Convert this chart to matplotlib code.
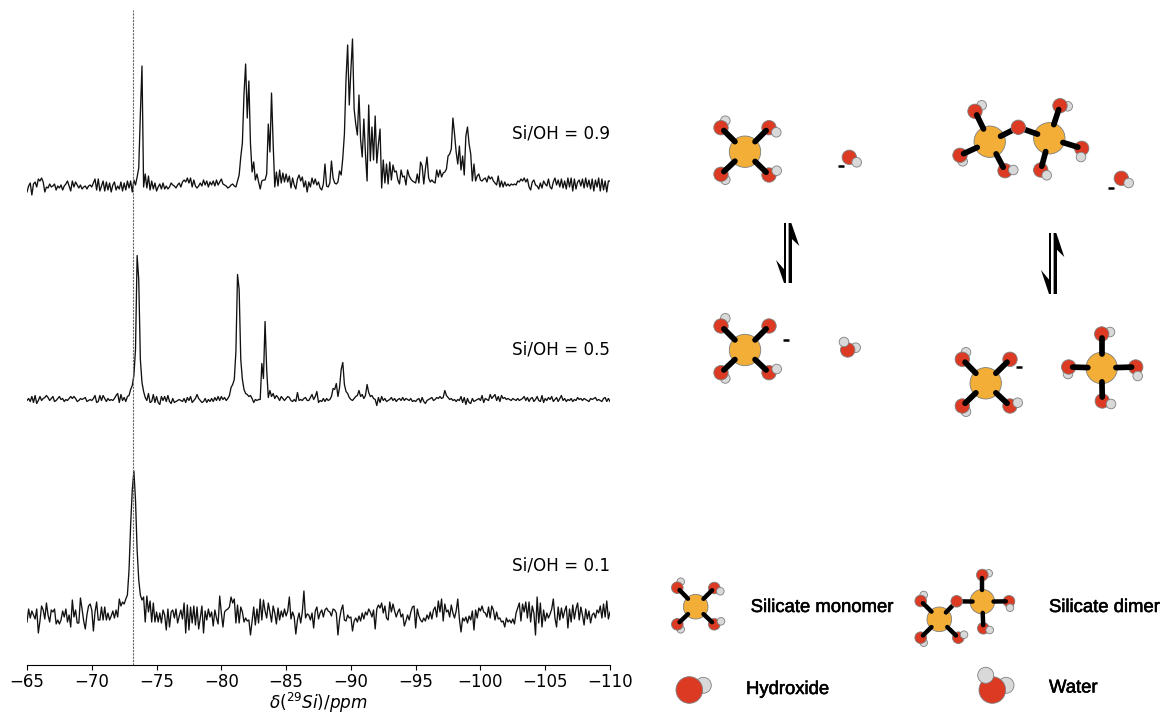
import numpy as np
import matplotlib
matplotlib.use("Agg")
import matplotlib.pyplot as plt
from matplotlib.patches import Circle, Polygon
import matplotlib.patheffects as pe

## spectra, height above each baseline, one value every 0.125 ppm starting at -65
si09 = [-8, -2, 1, -11, 0, 2, -3, 5, 3, 6,
        2, -8, -3, -4, 0, -3, -2, 0, -6, -2,
        -4, -1, -6, -2, 0, 3, -2, -7, 3, -3,
        2, -1, -4, -1, -5, -3, -2, -5, -2, -1,
        -3, 1, 5, -6, 5, -7, -2, 3, -7, 2,
        -6, 1, -8, -1, 2, -6, -2, -5, 2, -7,
        1, -6, 3, -4, 3, -8, 4, -1, 7, 16,
        70, 118, -3, 10, -4, 8, -6, 3, -5, 1,
        -7, -3, 0, -5, 1, -5, -2, -5, -3, 1,
        -1, -2, -4, -1, 1, -3, 2, 4, 2, 6,
        1, 6, -3, 4, -2, -4, -2, 1, -2, 4,
        -1, 3, -3, 2, -1, 3, -2, 4, -1, 2,
        5, 0, -1, -2, -4, -3, -1, 0, -2, -3,
        3, 9, 27, 41, 90, 120, 66, 103, 40, 12,
        22, 4, 10, 2, -5, 3, 4, 4, 10, 60,
        32, 91, 40, -3, 12, -2, 14, 1, 11, 2,
        10, 2, 8, -4, 6, -1, -5, 5, 9, 3,
        7, -3, 3, -8, 2, -3, 6, 0, 5, -1,
        2, -4, -6, 0, 20, -2, -3, 1, 23, 6,
        1, 0, 2, 13, 9, 26, 50, 105, 139, 79,
        114, 145, 75, 60, 49, 89, 44, 27, 65, 30,
        3, 79, 23, 57, 24, 68, 21, 40, 55, -4,
        24, 1, 20, 0, 22, 4, 19, 12, 13, 4,
        0, 14, 7, 8, -1, 14, 8, 5, 3, 2,
        1, 10, 1, 22, 18, 0, 15, 27, 6, 2,
        4, 2, 1, 14, 7, 14, 7, 11, 12, 15,
        28, 30, 35, 66, 50, 32, 20, 38, 14, 28,
        9, 48, 57, 40, 30, 3, 20, 3, 8, 10,
        4, 3, 5, 6, 2, 8, 5, 7, 3, 1,
        -1, 8, -3, 3, -3, 2, -2, 0, -2, 0,
        -1, 0, -1, 3, 2, 5, 3, 6, 2, 5,
        -3, -6, 2, 4, -1, -2, -5, 1, -4, 3,
        0, -2, 5, -3, -5, 2, 6, -1, 4, -3,
        5, -4, 3, -5, 6, -3, 6, -7, 5, -5,
        2, 4, -2, 5, -4, 6, -3, 4, -5, 5,
        -7, 4, -3, 6, -7, 5, -6, 3, -8, 3,
        3]

si05 = [-1, 1, -2, 3, -3, 4, -4, -1, 3, -1,
        1, 2, 4, 2, -1, 1, 3, -2, -1, 1,
        3, 0, 1, -2, 0, -1, 1, 3, 1, 3,
        1, -2, -1, 1, 0, 1, 2, -2, -1, 0,
        -1, 1, 4, -3, -2, 4, -1, 4, 1, -2,
        1, -1, 0, -1, 1, 4, 6, -3, 5, -1,
        2, -2, 3, 4, 10, 14, 24, 50, 144, 120,
        40, 17, 8, 2, -1, 6, -3, -2, 5, -3,
        3, -3, -5, 3, -1, 3, -2, 4, -2, -4,
        1, -3, -2, -1, 0, -1, -2, 1, -3, 2,
        -1, 3, -3, -1, 1, 5, 1, -1, -3, -2,
        1, -3, 0, -2, 1, -2, 2, -1, 3, -1,
        3, 0, 2, -1, 1, 4, 12, 15, 20, 48,
        125, 110, 40, 20, 10, 6, 5, 3, 4, 1,
        -3, 0, -1, 0, 0, 36, 21, 78, 30, 2,
        9, 3, 6, 1, 4, 2, -1, 3, 1, -1,
        1, 3, 2, -1, -2, 0, -2, 7, -1, 0,
        -1, 1, 2, -1, -1, 2, 5, 0, 3, 8,
        -3, -1, -2, 1, -2, 1, -1, 0, 3, 11,
        10, 16, 3, 12, 30, 37, 15, 8, 6, 2,
        0, -1, 1, 3, 4, 9, 3, 5, 1, 4,
        15, 7, 3, 4, 1, 0, -6, 2, -3, 3,
        -1, 1, -2, -1, 0, 2, -1, 1, -2, 0,
        1, -1, 2, -1, 1, 0, -1, 1, -2, -1,
        -2, 0, 1, -3, 2, -2, -4, -1, 0, 1,
        2, -1, 0, 2, 1, 3, 1, 2, 9, 4,
        2, 0, 1, -1, 0, -2, 0, -1, 3, -3,
        2, -5, 1, -3, -4, 1, -2, -1, 0, 1,
        -1, 4, -3, 1, 0, -1, 5, 1, 3, 5,
        -1, 3, -2, 4, 1, 2, 0, 1, 0, -1,
        1, 0, -1, 1, -1, 0, 1, 3, -1, 2,
        -2, 1, 2, -2, 0, 3, -1, -2, 4, -3,
        1, -1, 2, 0, 3, -2, 0, 2, -2, 1,
        4, -1, 1, -2, 0, -1, 1, -2, 0, -1,
        2, 0, 1, -1, 1, 0, -1, -2, 1, 0,
        1, 2, -1, 0, -1, -2, 1, 2, -2, 1,
        -2]

si01 = [-7, 6, -3, 4, 0, -4, 6, -18, -6, 9,
        5, -4, 12, 0, -7, 5, 3, 6, -9, -5,
        -9, -5, 4, -2, 6, -7, 0, -12, 15, -2,
        5, -8, -8, 17, 6, -6, -14, 0, 9, 11,
        5, -16, 3, 13, -5, -5, 8, -5, 8, -5,
        2, -5, -1, 4, -3, 5, -2, 16, 9, 13,
        11, 16, 20, 45, 90, 125, 144, 115, 65, 35,
        20, 15, 18, -7, 19, 3, 14, -7, 12, -7,
        3, -7, 2, -8, 5, 0, -15, 6, -12, 3,
        5, -3, 6, -8, -1, 5, -4, 12, -18, 10,
        -15, 8, -8, 9, -10, 8, -14, -3, 9, -18,
        4, -5, 6, -2, 3, -11, 5, -3, -9, 19,
        2, -12, 3, 5, 6, 8, 18, 12, 16, -8,
        10, -8, 8, 3, -7, -3, -6, -5, -20, -6,
        8, -10, 6, -8, 16, -5, 15, 4, -3, 12,
        3, -7, 9, 2, -9, 7, -5, 4, -2, 6,
        -1, 4, 18, -4, 3, -2, -19, -5, 2, -8,
        3, 24, -3, 1, 0, -5, 2, -13, 4, 8,
        -4, 2, 5, -2, 5, 7, 4, 3, -1, 6,
        5, 2, -20, -4, 5, 10, -5, -6, 0, -3,
        -2, -16, -6, -3, -7, -1, -6, 2, -4, 3,
        0, 6, 3, -2, 5, -14, 6, 10, 7, 12,
        2, 9, -3, -5, 13, 3, 11, 4, -2, 3,
        6, -2, 1, -11, -6, 0, -5, 3, 8, 9,
        -13, 6, -1, -5, -7, -3, -6, 0, -4, 3,
        -4, 5, 8, -2, 14, 3, 16, -6, 11, 3,
        5, -2, 10, 2, -3, 4, 16, -4, -17, -3,
        -6, -2, -8, -1, -5, 4, -15, 5, -3, 7,
        4, 9, 3, 2, -2, 8, -3, 9, 5, -5,
        3, -4, -3, -7, -6, -12, -3, -7, -5, -8,
        -4, -9, 2, 7, 12, -6, 11, 3, 13, -3,
        13, -7, 9, 2, -20, 18, -8, 12, -12, 5,
        -6, 2, -3, 1, 6, 16, -3, -12, 8, -5,
        7, -3, 4, 9, -13, 6, -7, 10, -4, 6,
        12, -5, 8, 0, -10, 6, -4, 4, -8, 0,
        2, -3, 5, 2, 9, -3, 11, -2, 14, -4,
        3]

traces = [si09, si05, si01]
trace_labels = ["Si/OH = 0.9", "Si/OH = 0.5", "Si/OH = 0.1"]
xticks = [-65, -70, -75, -80, -85, -90, -95, -100, -105, -110]
ref_ppm = -73.2

baselines = [481, 265.5, 50]
label_heights = [532, 316, 100]

SI = "#F2AE36"
OX = "#DC3A22"
HY = "#D9D9D9"
EDGE = "#7f7f7f"

fig = plt.figure(figsize=(11.64, 7.13), dpi=100)

ax = fig.add_axes([27 / 1164, 48 / 713, 583 / 1164, 655 / 713])
for y, base, txt, lab in zip(traces, baselines, trace_labels, label_heights):
    ppm = -65 - 0.125 * np.arange(len(y))
    ax.plot(ppm, np.array(y) + base, color="#111111", lw=0.95)
    ax.text(-110, lab, txt, ha="right", va="center", fontsize=12.1)
ax.axvline(ref_ppm, color="#666666", lw=0.8, ls="--", dashes=(2, 1))
ax.set_xlim(-65, -110)
ax.set_ylim(0, 655)
ax.set_xticks(xticks)
ax.set_yticks([])
ax.tick_params(axis="x", labelsize=12, pad=2.5)
for s in ["top", "left", "right"]:
    ax.spines[s].set_visible(False)
ax.set_xlabel(r"$\delta(^{29}Si)/ppm$", fontsize=12.2, labelpad=-0.5)

# everything on the right is drawn in picture pixels
sk = fig.add_axes([0, 0, 1, 1])
sk.set_xlim(0, 1164)
sk.set_ylim(713, 0)
sk.axis("off")
sk.patch.set_alpha(0)


def atom(x, y, r, col, z):
    sk.add_patch(Circle((x, y), r, fc=col, ec=EDGE, lw=0.6, zorder=z))


def bond(x0, y0, x1, y1, f0, f1, lw):
    sk.plot([x0 + f0 * (x1 - x0), x0 + f1 * (x1 - x0)],
            [y0 + f0 * (y1 - y0), y0 + f1 * (y1 - y0)],
            color="black", lw=lw, solid_capstyle="round", zorder=4)


def molecule(sis, arms, bridges=(), big=True):
    rs, ro, rh, lw = (15.7, 7.2, 4.8, 4.1) if big else (12.3, 5.8, 3.8, 3.2)
    for x, y in sis:
        atom(x, y, rs, SI, 3)
    for i, ox, oy, hx, hy, front in arms:
        atom(ox, oy, ro, OX, 2)
        if hx is not None:
            atom(hx, hy, rh, HY, 5 if front else 1)
        bond(sis[i][0], sis[i][1], ox, oy, 0.42, 0.88, lw)
    for ox, oy in bridges:
        atom(ox, oy, ro, OX, 4.5)
        for x, y in sis:
            bond(x, y, ox, oy, 0.38, 0.9, lw)


def half_arrows(xl, xr, top, bot, barb):
    sk.add_patch(Polygon([(xl - 1, top), (xl + 1, top), (xl + 1, bot), (xl - 1, bot),
                          (xl - 1, bot - barb * 0.6), (xl - 9, bot - barb), (xl - 1, bot)],
                         closed=True, fc="black", ec="none", zorder=6))
    sk.add_patch(Polygon([(xr - 1.7, bot), (xr + 1.7, bot), (xr + 1.7, top + barb * 0.7),
                          (xr + 9, top + barb), (xr + 1, top), (xr - 1.7, top)],
                         closed=True, fc="black", ec="none", zorder=6))


def minus(x, y):
    sk.plot([x - 3, x + 3], [y, y], color="black", lw=1.8, solid_capstyle="butt", zorder=6)


# top row
molecule([(745, 151.7)], [(0, 721, 127.7, 725.3, 120.7, False), (0, 769, 127.7, 776.3, 132.3, True),
                          (0, 721, 174.3, 725.3, 179.7, False), (0, 769, 175, 776.7, 170.7, True)])
atom(849.3, 157.3, 7.2, OX, 2)
atom(856.7, 162.3, 4.8, HY, 5)
minus(841, 165.7)
molecule([(989.7, 141.7), (1049.3, 138.3)],
         [(0, 975, 111.3, 981.7, 105.3, False), (0, 960, 155.3, 962.7, 161.3, False),
          (0, 1005, 170.7, 1013.3, 170, True), (1, 1060, 105.7, 1067.7, 106.3, False),
          (1, 1081.7, 148.3, 1081, 157, True), (1, 1040.7, 170, 1046.7, 175.3, True)],
         bridges=[(1018.3, 127.3)])
atom(1121.3, 178.3, 7.2, OX, 2)
atom(1128.7, 183, 4.8, HY, 5)
minus(1111.3, 188.3)

half_arrows(785, 790.3, 223, 283, 23)
half_arrows(1050, 1055.3, 233, 294, 24)

# middle row
molecule([(745, 350)], [(0, 721, 326, 725.3, 318.3, False), (0, 769, 326, None, None, False),
                        (0, 721, 372.7, 725.3, 378.5, False), (0, 769, 372.7, 776.7, 369, True)])
minus(785.7, 340.3)
atom(847.7, 350, 7.2, OX, 2)
atom(844, 342, 4.8, HY, 5)
atom(855.7, 347.7, 4.8, HY, 1)
molecule([(985.7, 383.3)], [(0, 962.3, 359.3, 966, 352.3, False), (0, 1010, 359.3, None, None, False),
                            (0, 962.3, 406, 966, 411.7, False), (0, 1010, 406, 1017.7, 402.7, True)])
minus(1019, 367)
molecule([(1101.7, 368)], [(0, 1101.7, 334, 1110, 332, False), (0, 1068.7, 367, 1068, 374, False),
                           (0, 1135.7, 367, 1137.7, 376, True), (0, 1102.3, 401, 1111, 404, True)])

# key
molecule([(695.7, 606.7)], [(0, 677.3, 587.7, 680.7, 581.7, False), (0, 714.3, 588, 720.3, 591.3, True),
                            (0, 677.3, 624.3, 680.7, 629.3, False), (0, 714.3, 624.3, 721, 621.3, True)],
         big=False)
molecule([(939.3, 619.3), (982.3, 601.7)],
         [(0, 920.7, 601, 923.7, 595, False), (0, 920.7, 637.7, 923.7, 642.7, False),
          (0, 958.3, 637.7, 964, 634.7, True), (1, 982.3, 575, 988.7, 573.3, False),
          (1, 1009, 601.3, 1010, 607.7, True), (1, 983.3, 628.3, 989.7, 630, True)],
         bridges=[(956.7, 601.3)], big=False)
atom(689.3, 690, 13.3, OX, 2)
atom(703.3, 685.3, 8, HY, 1)
atom(992.3, 690, 13.3, OX, 2)
atom(985.7, 675.3, 8, HY, 5)
atom(1006, 685.3, 8, HY, 1)

key_font = dict(family="Liberation Sans", fontsize=13.3, va="center", ha="left",
                path_effects=[pe.withStroke(linewidth=0.4, foreground="black")])
sk.text(750.7, 607.5, "Silicate monomer", **key_font)
sk.text(1049, 607.5, "Silicate dimer", **key_font)
sk.text(746, 689.5, "Hydroxide", **key_font)
sk.text(1049, 688, "Water", **key_font)

fig.savefig("out.png", dpi=100)
